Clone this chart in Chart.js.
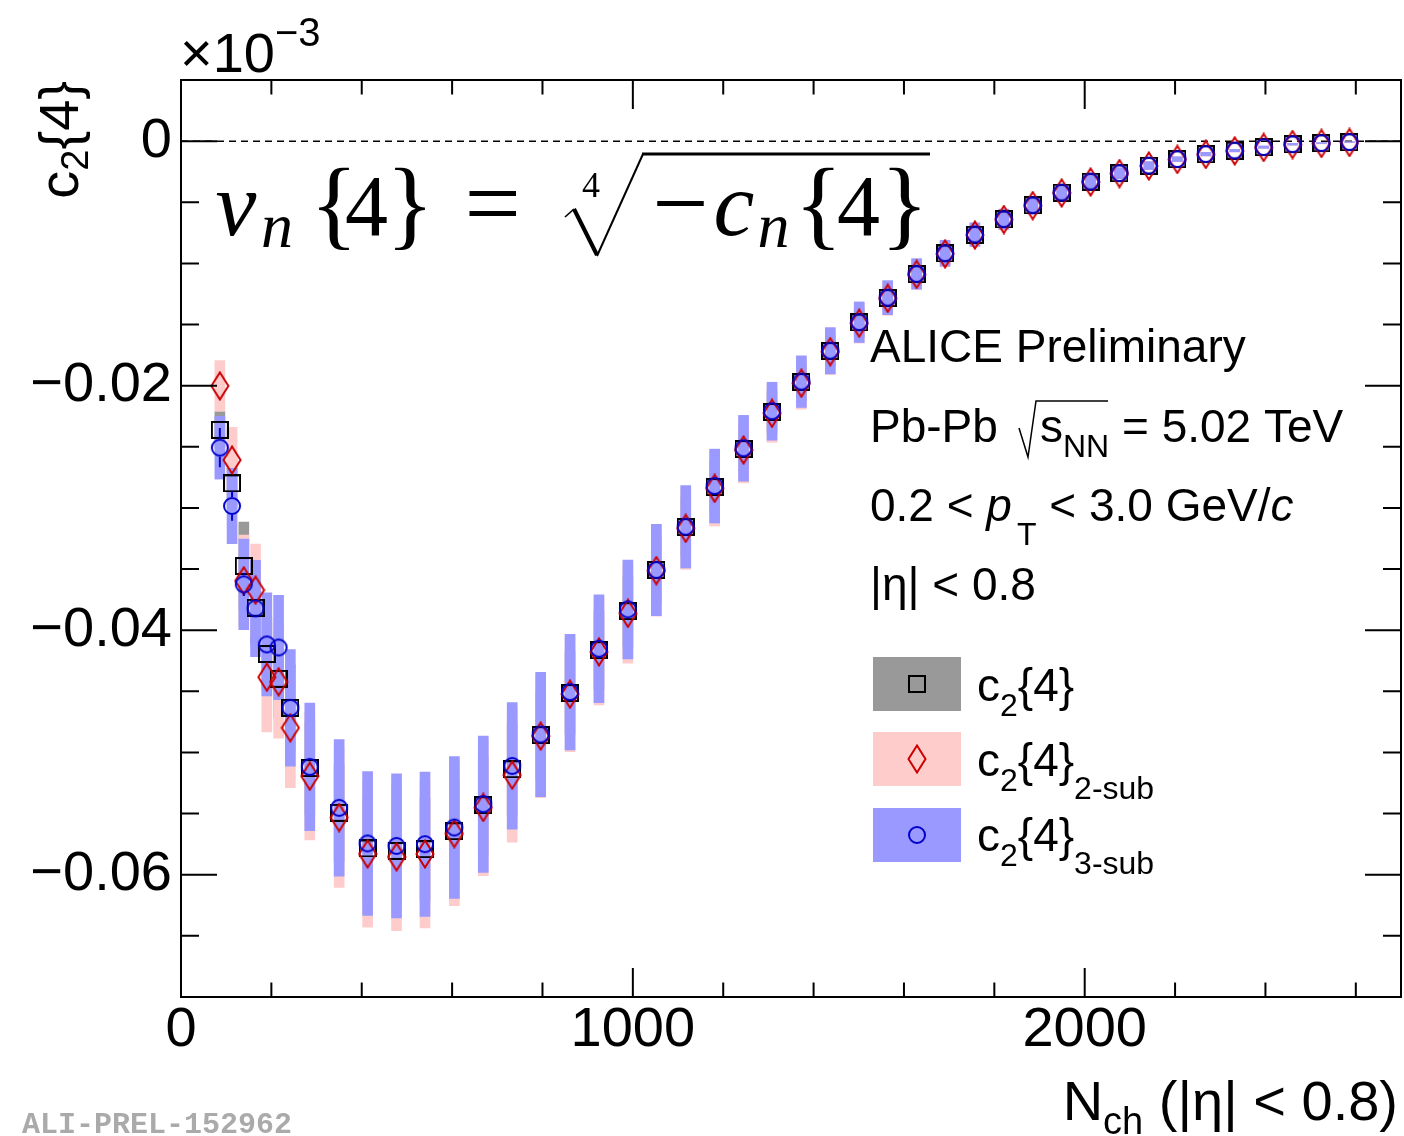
<!DOCTYPE html>
<html>
<head>
<meta charset="utf-8">
<script src="https://cdn.jsdelivr.net/npm/chart.js@4.4.0/dist/chart.umd.min.js"></script>
<style>
html, body { margin: 0; padding: 0; background: #fff; overflow: hidden; }
canvas { display: block; }
</style>
</head>
<body>
<canvas id="c2Chart" width="1404" height="1136"></canvas>
<script>
// N_ch bin centres
const nch = [86, 113, 139, 165, 190, 216, 242, 285, 350, 413, 477, 540, 605, 669, 733, 796, 861,
    925, 989, 1052, 1117, 1181, 1245, 1308, 1373, 1437, 1501, 1564, 1628, 1691, 1757, 1821, 1885,
    1949, 2013, 2077, 2142, 2205, 2268, 2332, 2396, 2460, 2524, 2586];

// c2{4}
const c24 = [-0.02362, -0.02799, -0.03475, -0.03817, -0.04195, -0.04398, -0.04635, -0.05128, -0.05494,
    -0.05785, -0.05805, -0.05791, -0.05644, -0.05431, -0.05137, -0.04858, -0.04514, -0.04163, -0.03844,
    -0.03508, -0.03156, -0.02829, -0.02518, -0.02215, -0.0197, -0.01716, -0.01483, -0.01283, -0.01088,
    -0.00919, -0.00766, -0.0064, -0.00525, -0.00422, -0.00332, -0.00263, -0.00201, -0.00148, -0.00107,
    -0.00078, -0.0005, -0.00026, -0.00017, -0.00009];
const c24Sys = [0.0015, 0.002, 0.0036, 0.003, 0.003, 0.0032, 0.0035, 0.0038, 0.004, 0.0042, 0.0042, 0.0042,
    0.0041, 0.004, 0.0038, 0.0036, 0.0034, 0.0032, 0.0029, 0.0027, 0.0024, 0.0022, 0.0019, 0.0017, 0.0015,
    0.0013, 0.0012, 0.001, 0.0009, 0.0008, 0.0007, 0.0006, 0.0005, 0.00045, 0.0004, 0.00033, 0.00022,
    0.00013, 0.0001, 0.00007, 0.00007, 0.00005, 0.00003, 0.00002];

// c2{4} 2-sub
const c24Sub2 = [-0.02002, -0.02608, -0.03596, -0.03672, -0.04384, -0.04422, -0.04798, -0.05194, -0.05532,
    -0.0583, -0.05854, -0.0583, -0.05663, -0.0545, -0.05185, -0.04866, -0.04523, -0.04177, -0.03862,
    -0.03512, -0.03167, -0.0284, -0.02526, -0.02226, -0.0198, -0.01722, -0.01489, -0.01286, -0.0109,
    -0.00922, -0.00768, -0.00641, -0.00527, -0.00424, -0.00334, -0.00265, -0.00203, -0.0015, -0.00109,
    -0.0008, -0.00052, -0.00028, -0.00019, -0.00011];
const sub2Sys = [0.00207, 0.00267, 0.00373, 0.00376, 0.00447, 0.00462, 0.0049, 0.00522, 0.00571, 0.00599,
    0.00604, 0.00604, 0.00591, 0.00558, 0.00549, 0.00504, 0.00471, 0.00435, 0.00408, 0.00373, 0.00335,
    0.00308, 0.00269, 0.00237, 0.00212, 0.00188, 0.00163, 0.00139, 0.00122, 0.00106, 0.00095, 0.00082,
    0.0007, 0.0006, 0.00052, 0.00044, 0.00032, 0.0002, 0.00014, 0.0001, 0.0001, 0.00007, 0.00004, 0.00003];

// c2{4} 3-sub
const c24Sub3 = [-0.02507, -0.02984, -0.03625, -0.03822, -0.04116, -0.04141, -0.04635, -0.05118, -0.05453,
    -0.05744, -0.05764, -0.0575, -0.05614, -0.05423, -0.0511, -0.04853, -0.04506, -0.04152, -0.0383,
    -0.03508, -0.03154, -0.02821, -0.02512, -0.02209, -0.01967, -0.01714, -0.01481, -0.0128, -0.01086,
    -0.00917, -0.00764, -0.00638, -0.00524, -0.00421, -0.00331, -0.00262, -0.002, -0.00147, -0.00106,
    -0.00077, -0.00049, -0.00025, -0.00016, -0.00008];
const sub3Sys = [0.00257, 0.00308, 0.0037, 0.00394, 0.00422, 0.00427, 0.00477, 0.00522, 0.00558, 0.00588,
    0.0059, 0.0059, 0.0058, 0.00558, 0.00517, 0.00509, 0.00473, 0.00441, 0.00404, 0.00373, 0.00337,
    0.00302, 0.00269, 0.00237, 0.00211, 0.00189, 0.00166, 0.00139, 0.00125, 0.00106, 0.00096, 0.00082,
    0.00071, 0.00061, 0.00053, 0.00045, 0.00033, 0.0002, 0.00014, 0.0001, 0.0001, 0.00007, 0.00004, 0.00003];
const sub3Stat = [0.0016, 0.0012, 0.00095, 0.0007, 0.0006, 0.0006, 0.0006, 0.0005, 0.0005, 0.0005, 0.0005,
    0.0005, 0.0004, 0.0004, 0.0004, 0.0004, 0.0003, 0.0003, 0.0003, 0.0003, 0.0002, 0.0002, 0.0002, 0.0002,
    0.0002, 0.0001, 0.0001, 0.0001, 0.0001, 0.0001, 0.0001, 0.0001, 0.0001, 0.0001, 0.0001, 0.0001, 0.0001,
    0.0001, 0.0001, 0.0001, 0.0001, 0.0001, 0.0001, 0.0001];

const xTicks = [0, 1000, 2000];
const xTickLabels = ['0', '1000', '2000'];
const yTicks = [0, -0.02, -0.04, -0.06];
const yTickLabels = ['0', '\u22120.02', '\u22120.04', '\u22120.06'];

const SANS = '"Liberation Sans", Arial, sans-serif';
const SERIF = '"Liberation Serif", "Times New Roman", serif';
const fs = (size, style) => (style ? style + ' ' : '') + size + 'px ' + SANS;
const fr = (size, style) => (style ? style + ' ' : '') + size + 'px ' + SERIF;

const GRAY = '#999999', PINK = '#ffcccc', LBLUE = '#9999ff';
const RED = '#cc0000', BLUE = '#0000cc';

function makeMarker(kind) {
    const c = document.createElement('canvas');
    if (kind === 'square') { c.width = 18; c.height = 18; }
    if (kind === 'diamond') { c.width = 20; c.height = 30; }
    if (kind === 'circle') { c.width = 20; c.height = 20; }
    const ctx = c.getContext('2d');
    ctx.lineWidth = 2;
    if (kind === 'square') {
        ctx.strokeStyle = '#000';
        ctx.strokeRect(1, 1, 16, 16);
    } else if (kind === 'diamond') {
        ctx.strokeStyle = RED;
        ctx.beginPath();
        ctx.moveTo(10, 1.5); ctx.lineTo(18.5, 15); ctx.lineTo(10, 28.5); ctx.lineTo(1.5, 15);
        ctx.closePath();
        ctx.stroke();
    } else {
        ctx.strokeStyle = BLUE;
        ctx.beginPath();
        ctx.arc(10, 10, 8, 0, Math.PI * 2);
        ctx.stroke();
    }
    return c;
}
const squareImg = makeMarker('square');
const diamondImg = makeMarker('diamond');
const circleImg = makeMarker('circle');

const boxes = (vals, errs) => nch.map((x, i) => ({ x: x, y: [vals[i] - errs[i], vals[i] + errs[i]] }));
const points = vals => nch.map((x, i) => ({ x: x, y: vals[i] }));

function textRun(ctx, x, y, parts, align) {
    let w = 0;
    parts.forEach(p => { ctx.font = p.f; w += ctx.measureText(p.t).width + (p.dx || 0); });
    let cx = align === 'right' ? x - w : x;
    parts.forEach(p => {
        ctx.font = p.f;
        cx += p.dx || 0;
        ctx.fillText(p.t, cx, y + (p.dy || 0));
        cx += ctx.measureText(p.t).width;
    });
    return w;
}

const rootStyle = {
    id: 'rootStyle',
    beforeDatasetsDraw(chart) {
        const ctx = chart.ctx, a = chart.chartArea, ys = chart.scales.y;
        const y0 = ys.getPixelForValue(0);
        ctx.save();
        ctx.strokeStyle = '#000';
        ctx.lineWidth = 1.5;
        ctx.setLineDash([7, 5]);
        ctx.beginPath();
        ctx.moveTo(a.left, y0); ctx.lineTo(a.right, y0);
        ctx.stroke();
        ctx.restore();
    },
    beforeDatasetDraw(chart, args) {
        if (args.index !== 5) return;
        // statistical error bars of the 3-sub points, drawn outside the marker
        const ctx = chart.ctx, xs = chart.scales.x, ys = chart.scales.y;
        ctx.save();
        ctx.strokeStyle = BLUE;
        ctx.lineWidth = 2;
        const R = 9;
        nch.forEach((n, i) => {
            const px = xs.getPixelForValue(n);
            const py = ys.getPixelForValue(c24Sub3[i]);
            const hi = ys.getPixelForValue(c24Sub3[i] + sub3Stat[i]);
            const lo = ys.getPixelForValue(c24Sub3[i] - sub3Stat[i]);
            if (py - hi > R) {
                ctx.beginPath();
                ctx.moveTo(px, hi); ctx.lineTo(px, py - R);
                ctx.moveTo(px, py + R); ctx.lineTo(px, lo);
                ctx.stroke();
            }
        });
        ctx.restore();
    },
    afterDraw(chart) {
        const ctx = chart.ctx, a = chart.chartArea, xs = chart.scales.x, ys = chart.scales.y;
        ctx.save();
        ctx.strokeStyle = '#000';
        ctx.fillStyle = '#000';
        ctx.lineWidth = 2;
        ctx.strokeRect(a.left, a.top, a.right - a.left, a.bottom - a.top);

        // inward ticks on all four sides
        ctx.beginPath();
        for (let k = -14; k <= 1; k++) {
            const py = ys.getPixelForValue(k * 0.005);
            const len = k % 4 === 0 ? 36 : 18;
            ctx.moveTo(a.left, py); ctx.lineTo(a.left + len, py);
            ctx.moveTo(a.right, py); ctx.lineTo(a.right - len, py);
        }
        for (let k = 0; k * 200 <= xs.max; k++) {
            const px = xs.getPixelForValue(k * 200);
            const len = k % 5 === 0 ? 29 : 14.5;
            ctx.moveTo(px, a.bottom); ctx.lineTo(px, a.bottom - len);
            ctx.moveTo(px, a.top); ctx.lineTo(px, a.top + len);
        }
        ctx.stroke();

        ctx.textBaseline = 'alphabetic';
        ctx.textAlign = 'left';

        // exponent
        textRun(ctx, 180, 72, [{ t: '\u00d710', f: fs(56) }, { t: '\u22123', f: fs(40), dy: -26 }]);

        // y title
        ctx.save();
        const yParts = [{ t: 'c', f: fs(56) }, { t: '2', f: fs(38), dy: 10 }, { t: '{4}', f: fs(56) }];
        let yw = 0;
        yParts.forEach(p => { ctx.font = p.f; yw += ctx.measureText(p.t).width; });
        ctx.translate(78, 81 + yw);
        ctx.rotate(-Math.PI / 2);
        textRun(ctx, 0, 0, yParts);
        ctx.restore();

        // x title
        textRun(ctx, 1398, 1120, [
            { t: 'N', f: fs(56) }, { t: 'ch', f: fs(38), dy: 14 }, { t: ' (|\u03b7| < 0.8)', f: fs(56) }
        ], 'right');

        // formula
        const formula = [
            ['v', 236, 235, fr(92, 'italic')], ['n', 277, 247, fr(64, 'italic')],
            ['{', 334, 237, fr(100)], ['4', 366.5, 235, fr(86)], ['}', 410, 237, fr(100)],
            ['=', 492.6, 237, fr(100)], ['4', 591, 197, fr(36)],
            ['\u2212', 680.5, 237, fr(100)], ['c', 734, 235, fr(92, 'italic')], ['n', 773.5, 247, fr(64, 'italic')],
            ['{', 818.5, 237, fr(100)], ['4', 858.5, 235, fr(86)], ['}', 904.6, 237, fr(100)]
        ];
        ctx.textAlign = 'center';
        formula.forEach(f => { ctx.font = f[3]; ctx.fillText(f[0], f[1], f[2]); });
        ctx.textAlign = 'left';
        ctx.lineJoin = 'miter';
        ctx.lineWidth = 1.6;
        ctx.beginPath(); ctx.moveTo(565, 217); ctx.lineTo(574, 209); ctx.stroke();
        ctx.lineWidth = 4;
        ctx.beginPath(); ctx.moveTo(574, 209); ctx.lineTo(597, 255); ctx.stroke();
        ctx.lineWidth = 2;
        ctx.beginPath(); ctx.moveTo(597, 256); ctx.lineTo(643, 154); ctx.stroke();
        ctx.lineWidth = 3;
        ctx.beginPath(); ctx.moveTo(642, 154); ctx.lineTo(930, 154); ctx.stroke();

        // text block
        textRun(ctx, 870, 362, [{ t: 'ALICE Preliminary', f: fs(46) }]);
        textRun(ctx, 870, 442, [{ t: 'Pb-Pb', f: fs(46) }]);
        ctx.lineWidth = 1.5;
        ctx.beginPath();
        ctx.moveTo(1019, 428); ctx.lineTo(1028, 457); ctx.lineTo(1036, 401); ctx.lineTo(1108, 401);
        ctx.stroke();
        textRun(ctx, 1040, 442, [{ t: 's', f: fs(46) }, { t: 'NN', f: fs(32), dy: 15 }]);
        textRun(ctx, 1122, 442, [{ t: '= 5.02 TeV', f: fs(46) }]);
        textRun(ctx, 870, 521, [
            { t: '0.2 < ', f: fs(46) }, { t: 'p', f: fs(46, 'italic') }, { t: 'T', f: fs(32), dy: 24, dx: 5 },
            { t: ' < 3.0 GeV/', f: fs(46) }, { t: 'c', f: fs(46, 'italic') }
        ]);
        textRun(ctx, 870, 600, [{ t: '|\u03b7| < 0.8', f: fs(46) }]);

        // legend
        const legend = [
            { fill: GRAY, img: squareImg, top: 657, base: 701, sub: '' },
            { fill: PINK, img: diamondImg, top: 732, base: 776, sub: '2-sub' },
            { fill: LBLUE, img: circleImg, top: 808, base: 851, sub: '3-sub' }
        ];
        legend.forEach(e => {
            ctx.fillStyle = e.fill;
            ctx.fillRect(873, e.top, 88, 54);
            ctx.drawImage(e.img, 917 - e.img.width / 2, e.top + 27 - e.img.height / 2);
            ctx.fillStyle = '#000';
            const parts = [{ t: 'c', f: fs(46) }, { t: '2', f: fs(32), dy: 15 }, { t: '{4}', f: fs(46) }];
            if (e.sub) parts.push({ t: e.sub, f: fs(32), dy: 23 });
            textRun(ctx, 977, e.base, parts);
        });

        // watermark
        ctx.fillStyle = '#aaaaaa';
        textRun(ctx, 22, 1133, [{ t: 'ALI-PREL-152962', f: 'bold 30px "Liberation Mono", monospace' }]);
        ctx.restore();
    }
};

const barOpts = { type: 'bar', barThickness: 10, grouped: false, borderWidth: 0, borderSkipped: false };
const dotOpts = { type: 'scatter', pointRadius: 9, pointHoverRadius: 9 };

new Chart(document.getElementById('c2Chart'), {
    type: 'bar',
    data: {
        datasets: [
            Object.assign({ label: 'c2{4} sys', data: boxes(c24, c24Sys), backgroundColor: GRAY, order: 6 }, barOpts),
            Object.assign({ label: 'c2{4} 2-sub sys', data: boxes(c24Sub2, sub2Sys), backgroundColor: PINK, order: 5 }, barOpts),
            Object.assign({ label: 'c2{4} 3-sub sys', data: boxes(c24Sub3, sub3Sys), backgroundColor: LBLUE, order: 4 }, barOpts),
            Object.assign({ label: 'c2{4}', data: points(c24), pointStyle: squareImg, order: 3 }, dotOpts),
            Object.assign({ label: 'c2{4} 2-sub', data: points(c24Sub2), pointStyle: diamondImg, order: 2 }, dotOpts),
            Object.assign({ label: 'c2{4} 3-sub', data: points(c24Sub3), pointStyle: circleImg, order: 1 }, dotOpts)
        ]
    },
    options: {
        responsive: false,
        animation: false,
        devicePixelRatio: 1,
        events: [],
        layout: { autoPadding: false, padding: { top: 80, right: 3, left: 0, bottom: 0 } },
        plugins: { legend: { display: false }, tooltip: { enabled: false } },
        scales: {
            x: {
                type: 'linear', min: 0, max: 2700, offset: false,
                grid: { display: false, drawTicks: false },
                border: { display: false },
                afterBuildTicks: s => { s.ticks = xTicks.map(v => ({ value: v })); },
                afterFit: s => { s.height = 139; s.paddingLeft = 0; s.paddingRight = 0; },
                ticks: {
                    callback: (v, i) => xTickLabels[i],
                    font: { family: SANS, size: 56 }, color: '#000',
                    padding: 0, maxRotation: 0, autoSkip: false
                }
            },
            y: {
                type: 'linear', min: -0.07, max: 0.005,
                grid: { display: false, drawTicks: false },
                border: { display: false },
                afterBuildTicks: s => { s.ticks = yTicks.map(v => ({ value: v })); },
                afterFit: s => { s.width = 181; s.paddingTop = 0; s.paddingBottom = 0; },
                ticks: {
                    callback: (v, i) => yTickLabels[i],
                    font: { family: SANS, size: 56 }, color: '#000',
                    padding: 9, autoSkip: false
                }
            }
        }
    },
    plugins: [rootStyle]
});
</script>
</body>
</html>
